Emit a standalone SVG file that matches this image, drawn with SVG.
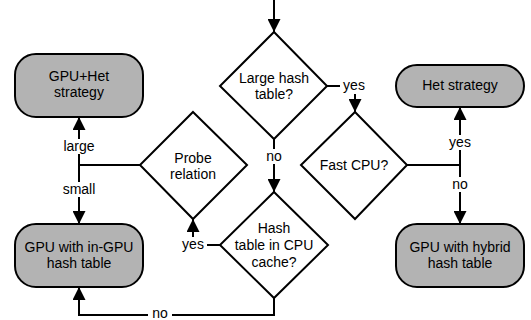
<svg xmlns="http://www.w3.org/2000/svg" width="531" height="320" viewBox="0 0 531 320">
  <defs>
    <marker id="arrow" viewBox="0 0 10 10" refX="10" refY="5" markerWidth="6.5" markerHeight="6.5" markerUnits="strokeWidth" orient="auto">
      <path d="M0,0 L10,5 L0,10 z" fill="#000"/>
    </marker>
    <style>
      .box { fill: #b3b3b3; stroke: #000; stroke-width: 2; }
      .dia { fill: #fff; stroke: #000; stroke-width: 2; }
      .edge { fill: none; stroke: #000; stroke-width: 2; }
      .arr { marker-end: url(#arrow); }
      text { font-family: "Liberation Sans", Arial, sans-serif; font-size: 14px; fill: #000; text-anchor: middle; }
      .lbl { fill: #fff; }
    </style>
  </defs>
  <rect width="531" height="320" fill="#fff"/>

  <g id="connectors">
    <path class="edge arr" d="M274,0 V32"/>
    <path class="edge arr" d="M327,86 H355 V112"/>
    <path class="edge arr" d="M274,139 V192"/>
    <path class="edge" d="M407,165 H460"/>
    <path class="edge arr" d="M460,165 V107"/>
    <path class="edge arr" d="M460,165 V224"/>
    <path class="edge" d="M140,165 H79"/>
    <path class="edge arr" d="M79,165 V117"/>
    <path class="edge arr" d="M79,165 V224"/>
    <path class="edge arr" d="M220,245 H193 V219"/>
    <path class="edge arr" d="M274,298 V315 H79 V287"/>
    <!-- edge labels on white patches -->
    <rect class="lbl" x="340" y="79" width="28" height="15"/>
    <text x="354" y="90">yes</text>
    <rect class="lbl" x="264" y="149" width="20" height="15"/>
    <text x="274" y="161">no</text>
    <rect class="lbl" x="446" y="135" width="28" height="15"/>
    <text x="460" y="147">yes</text>
    <rect class="lbl" x="450" y="177" width="20" height="15"/>
    <text x="460" y="189">no</text>
    <rect class="lbl" x="61" y="139" width="36" height="15"/>
    <text x="79" y="151">large</text>
    <rect class="lbl" x="59" y="182" width="40" height="15"/>
    <text x="79" y="194">small</text>
    <rect class="lbl" x="179" y="237" width="28" height="15"/>
    <text x="193" y="249">yes</text>
    <rect class="lbl" x="148" y="307" width="24" height="13"/>
    <text x="160" y="318">no</text>
  </g>

  <g id="large-hash-table">
    <path class="dia" d="M274,32 L327,86 L274,139 L220,86 Z"/>
    <text x="274" y="83">Large hash</text>
    <text x="274" y="99">table?</text>
  </g>

  <g id="fast-cpu">
    <path class="dia" d="M355,112 L407,165 L355,219 L301,165 Z"/>
    <text x="354" y="170">Fast CPU?</text>
  </g>

  <g id="probe-relation">
    <path class="dia" d="M193,112 L247,165 L193,219 L140,165 Z"/>
    <text x="193" y="163">Probe</text>
    <text x="193" y="179">relation</text>
  </g>

  <g id="hash-in-cpu-cache">
    <path class="dia" d="M274,192 L328,245 L274,298 L220,245 Z"/>
    <text x="274" y="233">Hash</text>
    <text x="274" y="250">table in CPU</text>
    <text x="274" y="267">cache?</text>
  </g>

  <g id="gpu-het-strategy">
    <rect class="box" x="15" y="54" width="128" height="63" rx="21"/>
    <text x="79" y="81">GPU+Het</text>
    <text x="79" y="97">strategy</text>
  </g>

  <g id="gpu-in-gpu">
    <rect class="box" x="15" y="224" width="128" height="63" rx="21"/>
    <text x="79" y="252">GPU with in-GPU</text>
    <text x="79" y="268">hash table</text>
  </g>

  <g id="het-strategy">
    <rect class="box" x="396" y="65" width="128" height="42" rx="21"/>
    <text x="460" y="90">Het strategy</text>
  </g>

  <g id="gpu-hybrid">
    <rect class="box" x="396" y="224" width="128" height="63" rx="21"/>
    <text x="460" y="252">GPU with hybrid</text>
    <text x="460" y="268">hash table</text>
  </g>
</svg>
